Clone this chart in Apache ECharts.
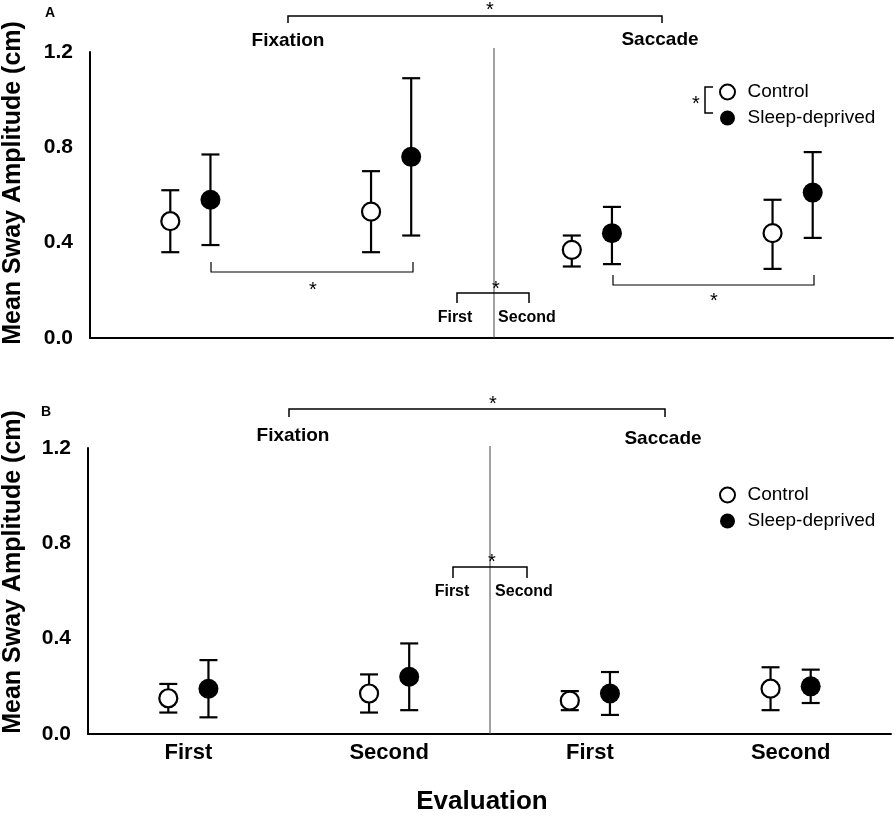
<!DOCTYPE html>
<html>
<head>
<meta charset="utf-8">
<script src="https://cdn.jsdelivr.net/npm/echarts@6/dist/echarts.min.js"></script>
<style>html,body{margin:0;padding:0;background:#fff}#c{width:896px;height:816px}</style>
</head>
<body>
<div id="c"></div>
<script>
// ---- data ----
const categories = ['First', 'Second', 'First', 'Second'];
const tasks = ['Fixation', 'Saccade'];
const yTicks = [0, 0.4, 0.8, 1.2];
const groups = ['Control', 'Sleep-deprived'];
const yTitle = 'Mean Sway Amplitude (cm)';
const xTitle = 'Evaluation';

// Panel A
const A_ctrl_mean = [0.49, 0.53, 0.37, 0.44];
const A_ctrl_lo   = [0.36, 0.36, 0.30, 0.29];
const A_ctrl_hi   = [0.62, 0.70, 0.43, 0.58];
const A_sd_mean   = [0.58, 0.76, 0.44, 0.61];
const A_sd_lo     = [0.39, 0.43, 0.31, 0.42];
const A_sd_hi     = [0.77, 1.09, 0.55, 0.78];
// Panel B
const B_ctrl_mean = [0.15, 0.17, 0.14, 0.19];
const B_ctrl_lo   = [0.09, 0.09, 0.10, 0.10];
const B_ctrl_hi   = [0.21, 0.25, 0.18, 0.28];
const B_sd_mean   = [0.19, 0.24, 0.17, 0.20];
const B_sd_lo     = [0.07, 0.10, 0.08, 0.13];
const B_sd_hi     = [0.31, 0.38, 0.26, 0.27];

// ---- build ----
const FONT = '"Liberation Sans", Arial, sans-serif';
const OFF = 0.1; // horizontal offset of the two groups inside a category

function pts(mean, off) { return mean.map((v, i) => [i + 0.5 + off, v]); }
function bars(lo, hi, off) { return lo.map((v, i) => [i + 0.5 + off, v, hi[i]]); }

function errRender(params, api) {
  const x = api.value(0), lo = api.value(1), hi = api.value(2);
  const p1 = api.coord([x, hi]), p2 = api.coord([x, lo]);
  const w = 9;
  const st = { stroke: '#000', lineWidth: 2.2 };
  return { type: 'group', children: [
    { type: 'line', shape: { x1: p1[0], y1: p1[1], x2: p2[0], y2: p2[1] }, style: st },
    { type: 'line', shape: { x1: p1[0] - w, y1: p1[1], x2: p1[0] + w, y2: p1[1] }, style: st },
    { type: 'line', shape: { x1: p2[0] - w, y1: p2[1], x2: p2[0] + w, y2: p2[1] }, style: st }
  ]};
}

function panelSeries(idx, cm, cl, ch, sm, sl, sh) {
  return [
    { type: 'custom', xAxisIndex: idx * 2 + 1, yAxisIndex: idx, renderItem: errRender, data: bars(cl, ch, -OFF), z: 2, silent: true },
    { type: 'custom', xAxisIndex: idx * 2 + 1, yAxisIndex: idx, renderItem: errRender, data: bars(sl, sh, OFF), z: 2, silent: true },
    { name: groups[0], type: 'scatter', xAxisIndex: idx * 2 + 1, yAxisIndex: idx, data: pts(cm, -OFF), symbolSize: 18,
      itemStyle: { color: '#fff', borderColor: '#000', borderWidth: 2.2, opacity: 1 }, z: 5 },
    { name: groups[1], type: 'scatter', xAxisIndex: idx * 2 + 1, yAxisIndex: idx, data: pts(sm, OFF), symbolSize: 20,
      itemStyle: { color: '#000', borderColor: '#000', borderWidth: 0, opacity: 1 }, z: 5 }
  ];
}

function yAx(gi) {
  return {
    type: 'value', gridIndex: gi, min: yTicks[0], max: yTicks[yTicks.length - 1], interval: 0.4,
    axisLine: { show: true, lineStyle: { color: '#000', width: 2 } },
    axisTick: { show: false }, splitLine: { show: false },
    axisLabel: { formatter: v => v.toFixed(1), fontFamily: FONT, fontWeight: 'bold', fontSize: 21, color: '#000', margin: 17 }
  };
}
function xCat(gi, showLabels) {
  return {
    type: 'category', gridIndex: gi, data: categories,
    axisLine: { lineStyle: { color: '#000', width: 2 } }, axisTick: { show: false },
    axisLabel: { show: showLabels, fontFamily: FONT, fontWeight: 'bold', fontSize: 22, color: '#000', margin: 8 }
  };
}
function xVal(gi) {
  return { type: 'value', gridIndex: gi, min: 0, max: categories.length, show: false };
}

const legendCommon = {
  data: groups, orient: 'vertical', left: 714, itemWidth: 30, itemHeight: 15, itemGap: 6,
  textStyle: { fontFamily: FONT, fontSize: 19, color: '#000', lineHeight: 20 }, selectedMode: false
};

const txt = (t, x, y, size, bold, align) => ({
  type: 'text', z: 10, style: { text: t, x: x, y: y, font: (bold ? 'bold ' : '') + size + 'px ' + FONT,
    fill: '#000', textAlign: align || 'center', textVerticalAlign: 'middle' } });
const rtxt = (t, x, y, size) => ({
  type: 'text', z: 10, x: x, y: y, rotation: Math.PI / 2,
  style: { text: t, x: 0, y: 0, font: 'bold ' + size + 'px ' + FONT, fill: '#000', textAlign: 'center', textVerticalAlign: 'middle' } });
const pl = (points, w) => ({ type: 'polyline', z: 10, shape: { points: points }, style: { stroke: '#000', lineWidth: w || 1.5, fill: null } });
const vline = (x, y1, y2) => ({ type: 'line', z: 1, shape: { x1: x, y1: y1, x2: x, y2: y2 }, style: { stroke: '#444', lineWidth: 1 } });

const graphics = [
  // panel A
  txt('A', 50, 13, 14, true),
  rtxt(yTitle, 13, 183, 25),
  pl([[288, 23], [288, 16], [662, 16], [662, 23]]),
  txt('*', 490, 10, 20, false),
  txt(tasks[0], 288, 41, 19, true), txt(tasks[1], 660, 40, 19, true),
  vline(494, 48, 338),
  pl([[211, 262], [211, 272], [413, 272], [413, 262]], 1.2), txt('*', 313, 290, 20, false),
  pl([[613, 275], [613, 285], [814, 285], [814, 275]], 1.2), txt('*', 714, 301, 20, false),
  pl([[457, 303], [457, 293], [529, 293], [529, 303]]), txt('*', 496, 289, 20, false),
  txt(categories[0], 455, 318, 16, true), txt(categories[1], 527, 318, 16, true),
  pl([[713, 87], [705, 87], [705, 113], [713, 113]]), txt('*', 696, 104, 20, false),
  // panel B
  txt('B', 46, 412, 14, true),
  rtxt(yTitle, 13, 572, 25),
  pl([[289, 417], [289, 409], [665, 409], [665, 417]]),
  txt('*', 493, 404, 20, false),
  txt(tasks[0], 293, 436, 19, true), txt(tasks[1], 663, 439, 19, true),
  vline(490, 446, 734),
  pl([[453, 578], [453, 567], [527, 567], [527, 578]]), txt('*', 492, 562, 20, false),
  txt(categories[0], 452, 592, 16, true), txt(categories[1], 524, 592, 16, true),
  txt(xTitle, 482, 802, 26, true)
];

const chart = echarts.init(document.getElementById('c'));
chart.setOption({
  animation: false,
  backgroundColor: '#fff',
  grid: [
    { left: 90, top: 52, width: 803, height: 286 },
    { left: 88, top: 448, width: 803, height: 286 }
  ],
  xAxis: [xCat(0, false), xVal(0), xCat(1, true), xVal(1)],
  yAxis: [yAx(0), yAx(1)],
  legend: [Object.assign({ top: 77 }, legendCommon), Object.assign({ top: 480 }, legendCommon)],
  series: [].concat(
    panelSeries(0, A_ctrl_mean, A_ctrl_lo, A_ctrl_hi, A_sd_mean, A_sd_lo, A_sd_hi),
    panelSeries(1, B_ctrl_mean, B_ctrl_lo, B_ctrl_hi, B_sd_mean, B_sd_lo, B_sd_hi)
  ),
  graphic: graphics
});
</script>
</body>
</html>
